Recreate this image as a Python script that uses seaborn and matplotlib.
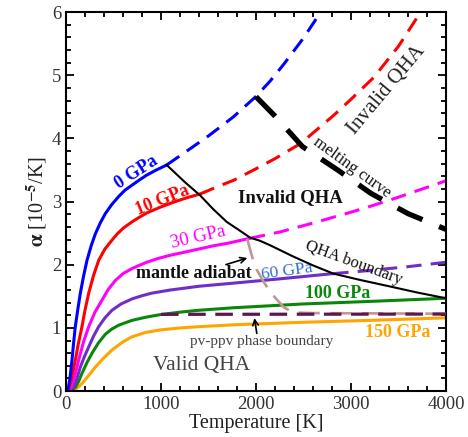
import matplotlib
matplotlib.use("Agg")
import matplotlib.pyplot as plt
import pandas as pd
import seaborn as sns
from matplotlib.ticker import MultipleLocator

# ---------------- data ----------------
T0_solid = [0, 20, 40, 63, 80, 98, 125, 151, 185, 221, 265, 309, 360, 414, 480, 554,
            620, 695, 770, 850, 950, 1060]
A0_solid = [0, 0.02, 0.18, 0.49, 0.76, 1.02, 1.30, 1.55, 1.82, 2.07, 2.30, 2.49, 2.66,
            2.81, 2.95, 3.08, 3.18, 3.26, 3.34, 3.42, 3.50, 3.58]
T0_dash = [1060, 1300, 1500, 1761, 1996, 2150, 2295, 2500, 2681, 2760]
A0_dash = [3.58, 3.83, 4.04, 4.34, 4.66, 4.91, 5.18, 5.59, 6.0, 6.18]

T10_solid = [0, 25, 50, 75, 98, 130, 168, 200, 239, 290, 344, 410, 484, 540, 603, 695,
             770, 849, 990, 1130, 1270, 1411]
A10_solid = [0, 0.02, 0.15, 0.32, 0.49, 0.75, 1.02, 1.28, 1.55, 1.83, 2.07, 2.25, 2.39,
             2.49, 2.58, 2.68, 2.75, 2.82, 2.91, 2.99, 3.06, 3.12]
T10_dash = [1411, 1600, 1768, 2000, 2200, 2470, 2821, 3000, 3242, 3500, 3733, 3800]
A10_dash = [3.12, 3.24, 3.34, 3.52, 3.68, 3.92, 4.37, 4.62, 4.97, 5.46, 6.0, 6.15]

T30_solid = [0, 30, 60, 95, 133, 185, 239, 305, 379, 445, 519, 600, 695, 770, 850, 970,
             1095, 1250, 1400, 1550, 1700, 1937]
A30_solid = [0, 0.01, 0.08, 0.25, 0.49, 0.78, 1.02, 1.25, 1.44, 1.61, 1.75, 1.86, 1.94,
             1.99, 2.04, 2.10, 2.15, 2.20, 2.25, 2.30, 2.34, 2.42]
T30_dash = [1937, 2253, 2600, 3130, 3500, 4000]
A30_dash = [2.42, 2.52, 2.66, 2.89, 3.07, 3.33]

T60_solid = [0, 40, 80, 115, 151, 195, 239, 290, 344, 410, 484, 580, 695, 800, 900, 1095,
             1400, 1768, 2200, 2814]
A60_solid = [0, 0.01, 0.06, 0.20, 0.38, 0.55, 0.70, 0.87, 1.02, 1.16, 1.28, 1.38, 1.46,
             1.51, 1.55, 1.60, 1.66, 1.71, 1.77, 1.86]
T60_dash = [2814, 3200, 3600, 4000]
A60_dash = [1.86, 1.91, 1.97, 2.04]

T100 = [0, 50, 100, 135, 168, 220, 274, 340, 414, 480, 550, 620, 695, 840, 989, 1200,
        1400, 1768, 2500, 3200, 4000]
A100 = [0, 0.01, 0.06, 0.16, 0.28, 0.45, 0.60, 0.76, 0.90, 0.98, 1.04, 1.08, 1.12, 1.17,
        1.21, 1.25, 1.28, 1.32, 1.38, 1.42, 1.47]

T150 = [0, 60, 100, 135, 168, 235, 309, 395, 484, 590, 695, 840, 1000, 1200, 1400, 1768,
        2500, 3200, 4000]
A150 = [0, 0.01, 0.03, 0.07, 0.12, 0.24, 0.38, 0.52, 0.65, 0.77, 0.86, 0.93, 0.97, 1.00,
        1.02, 1.05, 1.09, 1.12, 1.16]

T_qha = [1060, 1250, 1411, 1550, 1691, 1850, 1937, 2042, 2147, 2393, 2600, 2814, 3095,
         3400, 3700, 4000]
A_qha = [3.58, 3.31, 3.10, 2.88, 2.68, 2.52, 2.43, 2.38, 2.31, 2.13, 1.99, 1.86, 1.76,
         1.66, 1.56, 1.47]

T_melt = [2000, 2190, 2490, 2860, 3210, 3600, 4000]
A_melt = [4.66, 4.37, 3.87, 3.50, 3.13, 2.81, 2.56]

T_adiabat = [1908, 1960, 2005, 2080, 2160, 2290, 2390, 2600, 4000]
A_adiabat = [2.41, 2.12, 1.93, 1.73, 1.55, 1.33, 1.245, 1.235, 1.225]

T_ppv = [1000, 4000]
A_ppv = [1.215, 1.22]

# ---------------- style ----------------
sns.set_style("ticks")
plt.rcParams['font.family'] = ['Liberation Serif', 'DejaVu Serif']
plt.rcParams['mathtext.fontset'] = 'stix'

fig = plt.figure(figsize=(4.68, 4.37), dpi=100)
ax = fig.add_axes([0.141, 0.105, 0.812, 0.8673])

CW = 2.2
DASH = (0, (5, 3))


def draw(T, A, color, lw=CW, ls='-', z=2):
    df = pd.DataFrame({'T': T, 'alpha': A})
    sns.lineplot(data=df, x='T', y='alpha', ax=ax, color=color, lw=lw,
                 linestyle=ls, sort=False, estimator=None, legend=False,
                 zorder=z, solid_joinstyle='round')


c0, c10, c30, c60, c100, c150 = '#0000ff', '#ff0000', '#ff00ff', '#6f2fc4', '#0a870a', '#ffa500'

draw(T150, A150, c150)
draw(T100, A100, c100)
draw(T60_solid, A60_solid, c60)
draw(T60_dash, A60_dash, c60, ls=DASH)
draw(T30_solid, A30_solid, c30)
draw(T30_dash, A30_dash, c30, ls=DASH)
draw(T10_solid, A10_solid, c10)
draw(T10_dash, A10_dash, c10, ls=DASH)
draw(T0_solid, A0_solid, c0)
draw(T0_dash, A0_dash, c0, ls=DASH)

draw(T_adiabat, A_adiabat, '#bf9794', lw=1.9, ls=(0, (8, 4)), z=3)
draw(T_ppv, A_ppv, '#5e1650', lw=2.3, ls=(0, (5.5, 3)), z=4)
draw(T_qha, A_qha, 'black', lw=1.5, z=5)
draw(T_melt, A_melt, 'black', lw=3.8, ls=(0, (5.2, 3.4)), z=5)

ax.set_xlim(0, 4000)
ax.set_ylim(0, 6)
ax.xaxis.set_major_locator(MultipleLocator(1000))
ax.xaxis.set_minor_locator(MultipleLocator(200))
ax.yaxis.set_major_locator(MultipleLocator(1))
ax.yaxis.set_minor_locator(MultipleLocator(0.2))
ax.tick_params(which='both', direction='in', top=True, right=True,
               width=1.3, colors='black', labelcolor='#333333', labelsize=13.5)
ax.tick_params(which='major', length=6)
ax.tick_params(which='minor', length=3.5)
for s in ax.spines.values():
    s.set_linewidth(1.5)
    s.set_color('black')

ax.set_xlabel('Temperature [K]', fontsize=14.5, color='#222222', labelpad=1)
ax.set_ylabel(r'$\mathbf{\alpha}$ [10$^{\mathbf{-5}}$/K]', fontsize=14.5,
              color='#222222', labelpad=2)

# ---------------- annotations ----------------
ax.text(737, 3.46, '0 GPa', color=c0, fontsize=13, fontweight='bold',
        rotation=33, ha='center', va='center')
ax.text(1011, 3.02, '10 GPa', color=c10, fontsize=13, fontweight='bold',
        rotation=22, ha='center', va='center')
ax.text(1395, 2.44, '30 GPa', color=c30, fontsize=13.5,
        rotation=13, ha='center', va='center')
ax.text(2326, 1.90, '60 GPa', color='#2f6fd6', fontsize=12.5,
        rotation=8, ha='center', va='center')
ax.text(2863, 1.55, '100 GPa', color=c100, fontsize=13, fontweight='bold',
        ha='center', va='center')
ax.text(3495, 0.93, '150 GPa', color=c150, fontsize=13, fontweight='bold',
        ha='center', va='center')
ax.text(2358, 3.06, 'Invalid QHA', color='#111111', fontsize=13.5,
        fontweight='bold', ha='center', va='center')
ax.text(3379, 4.76, 'Invalid QHA', color='#222222', fontsize=15,
        rotation=50, ha='center', va='center')
ax.text(3011, 3.54, 'melting curve', color='#111111', fontsize=12,
        rotation=-36, ha='center', va='center')
ax.text(3032, 2.03, 'QHA boundary', color='#111111', fontsize=12,
        rotation=-20, ha='center', va='center')
ax.text(1342, 1.86, 'mantle adiabat', color='#111111', fontsize=13,
        fontweight='bold', ha='center', va='center')
ax.text(2063, 0.78, 'pv-ppv phase boundary', color='#444444', fontsize=11,
        ha='center', va='center')
ax.text(1432, 0.40, 'Valid QHA', color='#444444', fontsize=15.5,
        ha='center', va='center')

ax.annotate('', xy=(1937, 2.12), xytext=(1656, 1.99),
            arrowprops=dict(arrowstyle='->', color='black', lw=1.2))
ax.annotate('', xy=(1979, 1.20), xytext=(2013, 0.87),
            arrowprops=dict(arrowstyle='->', color='black', lw=1.2))

fig.savefig('out.png', dpi=100)
